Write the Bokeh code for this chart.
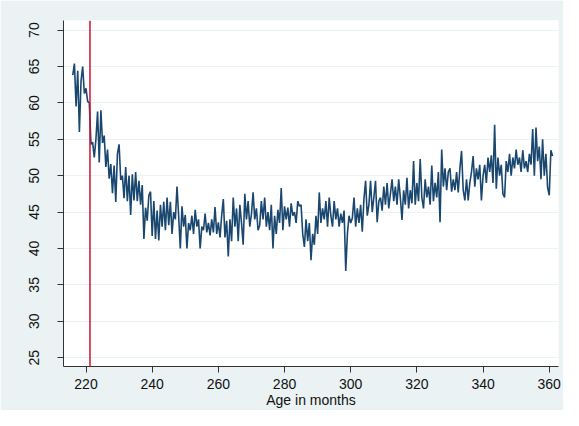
from bokeh.plotting import figure
from bokeh.models import Span, FixedTicker
from bokeh.embed import file_html
from bokeh.resources import INLINE

# Age grid: half-month steps starting at 216
age_start = 216.0
age_step = 0.5

# Values (one row = 5 months)
values = [
    63.8, 65.4, 59.5, 64.4, 56.0, 63.0, 65.0, 61.3, 62.0, 60.2,
    60.0, 54.3, 54.6, 52.5, 55.0, 58.8, 51.8, 59.0, 54.5, 55.5,
    51.2, 53.6, 49.6, 51.6, 47.6, 51.4, 46.4, 53.0, 54.3, 49.4,
    50.0, 46.9, 51.2, 46.5, 50.0, 44.6, 50.2, 46.6, 50.5, 46.5,
    49.3, 46.0, 48.7, 41.3, 45.6, 43.8, 47.3, 47.8, 41.7, 46.5,
    41.3, 45.2, 41.1, 46.0, 43.0, 46.4, 42.5, 47.0, 43.2, 46.4,
    42.0, 45.0, 44.0, 48.5, 44.5, 40.0, 45.8, 43.0, 44.6, 40.0,
    43.5, 42.5, 44.5, 42.0, 45.3, 43.0, 44.0, 40.0, 43.0, 42.5,
    44.8, 42.2, 43.5, 41.8, 44.0, 42.2, 45.7, 42.0, 43.6, 41.5,
    44.5, 46.8, 41.5, 43.8, 38.9, 44.0, 41.0, 47.0, 43.0, 45.5,
    41.0, 46.0, 43.5, 40.5, 47.5, 44.0, 46.5, 43.0, 44.7, 47.7,
    44.0, 45.5, 42.5, 43.2, 46.5, 44.0, 47.0, 43.0, 45.0, 42.5,
    46.0, 40.0, 44.5, 42.0, 45.3, 43.5, 48.3, 42.5, 45.8, 44.0,
    45.6, 43.0, 46.2, 44.5, 45.0, 43.5, 46.5, 45.8, 46.0, 42.0,
    40.2, 44.0, 41.0, 43.5, 38.4, 42.0, 40.5, 44.5, 42.0, 47.7,
    43.5, 45.5, 44.0, 46.5, 43.0, 47.0, 44.5, 43.0, 46.5, 44.0,
    45.5, 43.0, 44.8, 43.5, 45.2, 36.9, 42.0, 44.5, 43.5, 44.2,
    47.0, 43.0, 45.5, 43.5, 46.0, 42.3, 46.8, 49.3, 44.5, 46.0,
    49.3, 45.0, 47.0, 49.3, 43.6, 46.5, 47.0, 45.2, 48.5, 46.0,
    49.0, 45.5, 47.5, 49.5, 46.5, 48.5, 46.0, 49.5, 47.0, 43.9,
    48.0, 46.0, 49.7, 45.5, 48.0, 46.2, 52.0, 46.0, 49.0, 46.5,
    52.3, 47.0, 45.5, 49.5, 47.0, 48.5, 46.0, 51.4, 46.5, 49.0,
    47.0, 50.5, 43.6, 53.6, 48.5, 51.0, 48.0, 50.5, 51.0, 47.8,
    49.5, 48.0, 50.5, 47.7, 51.0, 53.4, 48.0, 46.6, 49.5, 46.6,
    49.0, 50.5, 52.7, 48.5, 51.0, 49.5, 51.5, 46.6, 50.0, 51.5,
    49.0, 52.5, 50.5, 52.8, 49.0, 57.0, 48.2, 52.5, 50.0, 51.5,
    47.5, 47.0, 52.0, 50.5, 53.0, 50.0, 52.5, 51.0, 53.6, 51.5,
    52.5, 50.5, 53.5, 51.0, 52.0, 50.5, 53.0, 51.5, 56.4, 50.0,
    56.6, 52.0, 54.0, 49.5, 55.0, 50.0, 53.0, 48.4, 47.3, 53.5,
    52.7,
]
ages = [age_start + age_step * i for i in range(len(values))]

cutoff_age = 221.2
x_ticks = [220, 240, 260, 280, 300, 320, 340, 360]
y_ticks = [25, 30, 35, 40, 45, 50, 55, 60, 65, 70]
x_label = "Age in months"

BG = "#EAF2F3"
NAVY = "#1A476F"
FONT = "Liberation Sans"

p = figure(width=563, height=410, output_backend="svg", toolbar_location=None,
           x_range=(213.2, 362.8), y_range=(23.78, 71.32),
           min_border_left=63, min_border_right=5, min_border_top=20,
           min_border_bottom=40)
p.border_fill_color = BG
p.background_fill_color = "white"
p.outline_line_color = None

p.line(ages, values, line_color=NAVY, line_width=1.6)

p.add_layout(Span(location=cutoff_age, dimension="height",
                  line_color="#CC1133", line_width=1.5))

p.xgrid.visible = False
p.ygrid.grid_line_color = BG
p.ygrid.grid_line_width = 1.2
p.ygrid.ticker = FixedTicker(ticks=y_ticks)

p.xaxis.ticker = FixedTicker(ticks=x_ticks)
p.yaxis.ticker = FixedTicker(ticks=y_ticks)
p.xaxis.axis_label = x_label

for ax in (p.xaxis[0], p.yaxis[0]):
    ax.axis_line_color = "#333333"
    ax.axis_line_width = 1
    ax.major_tick_line_color = "#333333"
    ax.major_tick_out = 6
    ax.major_tick_in = 0
    ax.minor_tick_line_color = None
    ax.major_label_text_font = FONT
    ax.major_label_text_font_size = "14px"
    ax.major_label_text_color = "#111111"

p.yaxis.major_label_orientation = "vertical"
p.yaxis.major_label_standoff = 18
p.xaxis.major_label_standoff = 6
p.xaxis.axis_label_text_font = FONT
p.xaxis.axis_label_text_font_size = "14px"
p.xaxis.axis_label_text_font_style = "normal"
p.xaxis.axis_label_text_color = "#111111"
p.xaxis.axis_label_standoff = 0

open("out.html", "w").write(file_html(p, INLINE))
